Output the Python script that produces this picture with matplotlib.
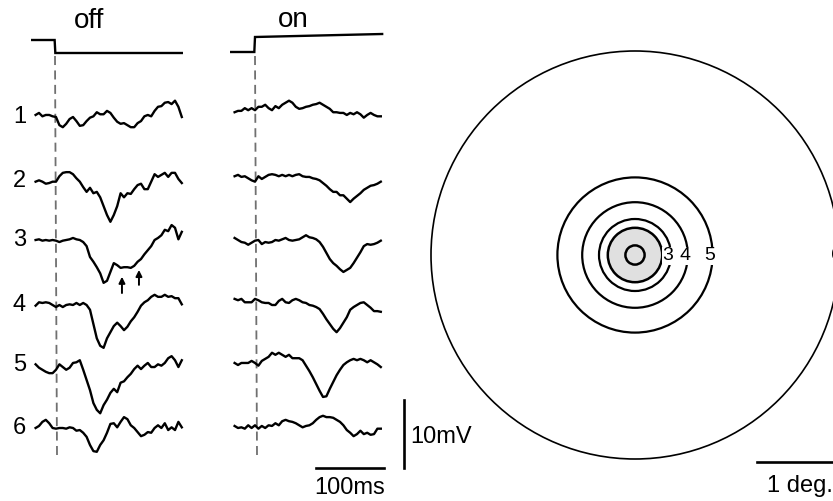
import numpy as np
import matplotlib
matplotlib.use("Agg")
import matplotlib.pyplot as plt
from matplotlib.transforms import Affine2D
from matplotlib.patches import Circle

plt.rcParams['font.family'] = ['Liberation Sans', 'DejaVu Sans']

# recording time (ms), 0 = light step
t_ms = np.arange(-30, 186, 5)

# responses to light off (mV, relative to each row baseline)
off_1 = [0.3, 0.6, 0.1, 0.3, 0.3, 0.1, 0, -1.2, -1.5, -1.0, -0.3,
         0, -0.6, -1.3, -1.2, -0.6, -0.1, 0.1, 0.7, 0.4, 0.4, 0.9,
         0.6, -0.1, -0.7, -1.0, -0.9, -1.2, -1.5, -1.5, -0.9, -0.6, 0.1,
         0.3, 0.1, 0.9, 1.5, 1.6, 2.1, 2.2, 1.9, 2.4, 1.5, 0]
off_2 = [-0.1, 0.1, -0.1, -0.4, -0.3, -0.1, -0.1, 0.7, 1.2, 1.3, 1.3,
         1.0, 0.4, -0.1, -0.9, -1.6, -1.0, -1.8, -1.6, -2.4, -3.7, -5.0,
         -6.0, -5.0, -3.7, -1.8, -2.4, -1.8, -1.9, -1.2, -0.6, -0.4, -1.2,
         -1.2, -0.1, 1.0, 0.6, 0.9, 1.2, 0.6, 1.2, 1.2, 0.3, -0.3]
off_3 = [0, 0.1, -0.1, 0, -0.1, 0, -0.1, -0.3, -0.1, 0, 0.1,
         0.3, 0.1, 0, -0.3, -0.9, -2.5, -3.2, -4.0, -4.9, -6.3, -6.0,
         -4.7, -3.4, -3.7, -4.1, -4.0, -4.0, -4.1, -3.8, -3.2, -2.8, -2.1,
         -1.5, -0.9, 0, 0.3, 0.7, 1.5, 1.3, 2.2, 1.8, 0.1, 1.2]
off_4 = [-0.1, 0.4, 0.3, 0.4, 0.3, 0, -0.3, 0, -0.3, 0, 0.1,
         0, 0.3, 0, 0.3, 0, -0.7, -2.8, -4.9, -6.0, -6.3, -4.9,
         -4.0, -3.1, -2.6, -3.1, -3.7, -3.2, -2.4, -1.8, -1.0, -0.1, 0.4,
         0.7, 1.2, 1.5, 1.2, 1.2, 1.5, 1.2, 1.3, 1.0, 1.0, 0.1]
off_5 = [0.1, -0.4, -0.7, -1.0, -1.2, -1.2, -0.7, 0.1, -0.3, -0.7, -0.4,
         0.3, 0.4, 0.7, -0.7, -2.2, -3.7, -5.6, -6.6, -7.1, -5.9, -5.1,
         -4.1, -3.5, -4.0, -2.6, -2.4, -1.8, -1.3, -0.6, -0.1, -0.6, -0.1,
         0.3, -0.3, -0.3, 0.1, -0.1, 0.3, 1.0, 1.3, 0.7, -0.3, 0.7]
off_6 = [0, 0.3, 0.9, 1.2, 0.7, 0, -0.1, 0, 0, -0.1, 0.1,
         0, -0.4, -0.3, -0.7, -1.3, -2.5, -3.4, -3.5, -2.5, -1.8, -0.7,
         0.6, 0.7, 0.1, 0.9, 1.6, 1.3, 0.4, 0, -0.6, -1.2, -1.0,
         -0.6, -0.7, 0, 0.4, 0, 0.7, -0.3, 0.1, -0.3, 0.9, 0.1]

# responses to light on
on_1 = [0.7, 0.9, 0.9, 1.3, 1.0, 1.3, 1.0, 1.5, 1.5, 1.8, 1.3,
        1.0, 1.6, 1.3, 1.8, 2.1, 2.4, 2.1, 1.5, 1.2, 1.3, 1.5,
        1.6, 1.8, 1.9, 2.1, 1.8, 1.5, 1.2, 0.7, 0.7, 0.6, 0.6,
        0.3, 0.6, 0.4, 0.7, 0.4, -0.1, 0.3, 0.6, 0.3, 0.1, 0.1]
on_2 = [0.7, 0.9, 0.6, 0.7, 0.4, 0.1, -0.1, 0.7, 0.3, 0.6, 0.9,
        1.0, 0.9, 0.7, 0.9, 0.7, 0.9, 0.7, 0.9, 1.0, 0.7, 0.6,
        0.6, 0.4, 0.3, 0.1, -0.3, -0.7, -1.2, -1.6, -1.6, -2.1, -2.1,
        -2.6, -3.1, -2.6, -2.2, -1.8, -1.3, -1.0, -0.7, -0.6, -0.4, -0.1]
on_3 = [0.3, 0, -0.3, -0.4, -0.7, -0.4, -0.1, 0, -0.6, -0.3, -0.4,
        -0.3, 0, -0.1, 0.1, 0.3, 0, -0.1, 0, 0.1, 0.4, 0.7,
        0.4, 0.3, 0.1, -0.3, -1.0, -1.9, -2.8, -3.4, -3.8, -4.3, -4.7,
        -4.4, -4.1, -3.4, -2.6, -1.8, -0.9, -0.6, -0.7, -0.6, -0.4, -0.1]
on_4 = [0.9, 0.7, 0.9, 0.4, 0.4, 0.4, 0.9, 0.7, 0.4, 0.3, 0.3,
        0, 0, 0.6, 0.9, 0.4, 0.3, 0.7, 0.9, 0.7, 0.4, 0.3,
        0, -0.1, -0.3, -0.6, -1.3, -2.1, -2.8, -3.5, -4.0, -3.4, -2.6,
        -1.8, -0.7, -0.3, 0, 0.3, 0.4, 0, -0.4, -0.9, -0.9, -1.0]
on_5 = [0.3, 0, 0.3, 0.3, 0.3, 0.6, 0.3, -0.1, 0.6, 0.9, 1.2,
        1.8, 1.5, 1.8, 1.5, 1.2, 1.5, 1.0, 1.0, 1.0, 0.7, -0.1,
        -0.9, -1.8, -2.8, -3.8, -4.7, -4.6, -3.5, -2.5, -1.5, -0.7, 0,
        0.4, 0.7, 0.9, 0.7, 0.9, 0.7, 0.4, 0.7, 0.4, 0.1, -0.3]
on_6 = [0.3, 0, 0.1, -0.1, 0.4, 0, 0.4, -0.1, 0.3, 0, 0.4,
        0.3, 0.7, 0.4, 1.0, 1.2, 1.0, 0.9, 0.7, 0.4, 0.1, 0.3,
        0.4, 0.7, 1.2, 1.6, 1.8, 1.6, 1.6, 1.5, 1.2, 0.9, 0.4,
        -0.3, -0.7, -1.2, -0.9, -0.4, -0.9, -0.7, -1.0, -0.9, -0.1, -0.1]

row_names = ["1", "2", "3", "4", "5", "6"]
arrow_ms = [97, 122]          # arrows under off trace 3

# stimulus rings (deg), labelled 3..6
ring_deg = [0.12, 0.34, 0.45, 0.66, 0.97, 2.55]
ring_names = ["", "", "3", "4", "5", "6"]

off_traces = [off_1, off_2, off_3, off_4, off_5, off_6]
on_traces = [on_1, on_2, on_3, on_4, on_5, on_6]

W, H = 833, 501
fig = plt.figure(figsize=(W / 100, H / 100), dpi=100)
ax = fig.add_axes([0, 0, 1, 1])
ax.set_xlim(0, W)
ax.set_ylim(H, 0)
ax.axis('off')

PX_MS = 0.68     # 100 ms bar = 68 px
PX_MV = 6.8      # 10 mV bar = 68 px
DEG_PX = 80
row_y = [117, 181, 240, 305, 365, 428]
x_off, x_on = 56, 255


def trace_tf(x0, y0):
    return Affine2D().scale(PX_MS, -PX_MV).translate(x0, y0) + ax.transData


def time_tf(x0):
    return Affine2D().scale(PX_MS, 1).translate(x0, 0) + ax.transData


# stimulus steps
ax.plot([-35, -2, -1, 185], [40, 40, 53, 53], color='k', lw=1.7,
        transform=time_tf(x_off), solid_joinstyle='miter')
ax.plot([-35, -1, 0, 187], [52, 52, 37, 34], color='k', lw=1.7,
        transform=time_tf(x_on), solid_joinstyle='miter')
ax.text(89, 21, "off", fontsize=20, ha='center', va='center')
ax.text(293, 20, "on", fontsize=20, ha='center', va='center')

# onset markers
for x0 in [x_off - 1, x_on]:
    ax.plot([x0, x0 + 2], [56, 455], color='#707070', lw=1.3, dashes=(5, 3))

for i in range(6):
    ax.plot(t_ms, off_traces[i], color='k', lw=1.7, transform=trace_tf(x_off, row_y[i]))
    ax.plot(t_ms, on_traces[i], color='k', lw=1.7, transform=trace_tf(x_on, row_y[i]))
    ax.text(26, row_y[i], row_names[i], fontsize=17, ha='right', va='center')

for tm, tip, tail in zip(arrow_ms, [-5.4, -4.4], [-7.8, -6.6]):
    ax.annotate('', xy=(tm, tip), xytext=(tm, tail), xycoords=trace_tf(x_off, row_y[2]),
                arrowprops=dict(arrowstyle='-|>', color='k', lw=1.4, mutation_scale=9,
                                shrinkA=0, shrinkB=0))

# scale bars
ax.plot([404, 404], [468 - 10 * PX_MV, 468], color='k', lw=1.9)
ax.text(410, 437, "10mV", fontsize=17, ha='left', va='center')
ax.plot([384 - 100 * PX_MS, 384], [468, 468], color='k', lw=1.9)
ax.text(350, 488, "100ms", fontsize=17, ha='center', va='center')

# ring stimulus map
cx, cy = 635, 255
ax.add_patch(Circle((cx, cy), ring_deg[1] * DEG_PX, facecolor='#e0e0e0', edgecolor='k', lw=1.8))
ax.add_patch(Circle((cx, cy), ring_deg[0] * DEG_PX, facecolor='none', edgecolor='k', lw=1.8))
for r, name in zip(ring_deg[2:], ring_names[2:]):
    lw = 1.2 if r > 2 else 1.6
    ax.add_patch(Circle((cx, cy), r * DEG_PX, facecolor='none', edgecolor='k', lw=lw))
    ax.text(cx + r * DEG_PX - 3, cy + 1, name, fontsize=14, ha='center', va='center',
            bbox=dict(facecolor='white', edgecolor='none', pad=0.5))

ax.plot([757, 757 + DEG_PX], [462, 462], color='k', lw=1.9)
ax.text(800, 486, "1 deg.", fontsize=17, ha='center', va='center')

fig.savefig("out.png", dpi=100, facecolor='white')
